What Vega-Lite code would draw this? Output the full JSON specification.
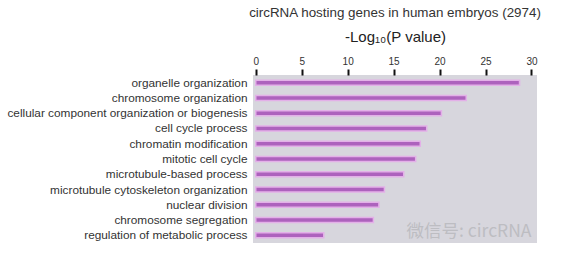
{
  "$schema": "https://vega.github.io/schema/vega-lite/v6.json",
  "width": 284,
  "height": 168,
  "autosize": {"type": "none"},
  "padding": {"left": 253, "top": 75, "right": 30, "bottom": 13},
  "background": "white",
  "title": {
    "text": "circRNA hosting genes in human embryos (2974)",
    "font": "Liberation Sans",
    "fontSize": 13.4,
    "fontWeight": "normal",
    "color": "#333",
    "anchor": "middle",
    "offset": 10
  },
  "config": {
    "view": {"fill": "#d7d6dd", "stroke": null},
    "font": "Liberation Sans"
  },
  "data": {
    "values": [
      {"term": "organelle organization", "value": 28.7},
      {"term": "chromosome organization", "value": 22.9},
      {"term": "cellular component organization or biogenesis", "value": 20.2},
      {"term": "cell cycle process", "value": 18.6},
      {"term": "chromatin modification", "value": 17.9},
      {"term": "mitotic cell cycle", "value": 17.4},
      {"term": "microtubule-based process", "value": 16.1},
      {"term": "microtubule cytoskeleton organization", "value": 14.0},
      {"term": "nuclear division", "value": 13.4},
      {"term": "chromosome segregation", "value": 12.8},
      {"term": "regulation of metabolic process", "value": 7.4}
    ]
  },
  "encoding": {
    "y": {
      "field": "term",
      "type": "nominal",
      "scale": {"domain": ["organelle organization", "chromosome organization", "cellular component organization or biogenesis", "cell cycle process", "chromatin modification", "mitotic cell cycle", "microtubule-based process", "microtubule cytoskeleton organization", "nuclear division", "chromosome segregation", "regulation of metabolic process"]},
      "axis": {
        "title": null,
        "ticks": false,
        "domain": false,
        "labelPadding": 6,
        "labelFontSize": 11.8,
        "labelColor": "#333",
        "labelLimit": 260
      }
    }
  },
  "layer": [
    {
      "mark": {"type": "bar", "height": 5, "color": "#ad62bd", "stroke": "#e3b0e8", "strokeWidth": 1.5},
      "encoding": {
        "x": {
          "field": "value",
          "type": "quantitative",
          "scale": {"domain": [-0.3, 30.6], "nice": false, "zero": false},
          "axis": {
            "orient": "top",
            "values": [0, 5, 10, 15, 20, 25, 30],
            "title": "-Log₁₀(P value)",
            "titleFontSize": 15,
            "titleFontWeight": "normal",
            "titleColor": "#222",
            "titlePadding": 12,
            "domain": false,
            "grid": false,
            "tickColor": "#111",
            "tickWidth": 2,
            "tickSize": 6,
            "labelFontSize": 10,
            "labelColor": "#333",
            "labelPadding": 3
          }
        }
      }
    },
    {
      "data": {"values": [{"wm": "微信号: circRNA", "value": 23.2, "term": "regulation of metabolic process"}]},
      "mark": {"type": "text", "fontSize": 17.5, "color": "#bdbdc2", "dy": -3, "font": "Noto Sans CJK SC"},
      "encoding": {
        "x": {"field": "value", "type": "quantitative"},
        "text": {"field": "wm"}
      }
    }
  ]
}
